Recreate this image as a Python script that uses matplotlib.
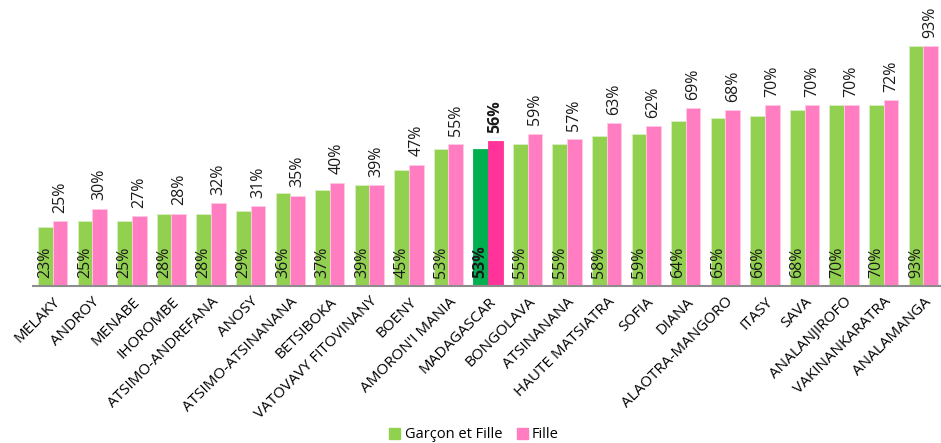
import matplotlib
matplotlib.use("Agg")
import matplotlib.pyplot as plt
from matplotlib.patches import Patch
import numpy as np

plt.rcParams['font.family'] = ['Open Sans', 'DejaVu Sans']

regions = ["MELAKY", "ANDROY", "MENABE", "IHOROMBE", "ATSIMO-ANDREFANA", "ANOSY",
           "ATSIMO-ATSINANANA", "BETSIBOKA", "VATOVAVY FITOVINANY", "BOENY",
           "AMORON'I MANIA", "MADAGASCAR", "BONGOLAVA", "ATSINANANA",
           "HAUTE MATSIATRA", "SOFIA", "DIANA", "ALAOTRA-MANGORO", "ITASY",
           "SAVA", "ANALANJIROFO", "VAKINANKARATRA", "ANALAMANGA"]
garcon_fille = [23, 25, 25, 28, 28, 29, 36, 37, 39, 45, 53, 53, 55, 55, 58, 59, 64, 65, 66, 68, 70, 70, 93]
fille = [25, 30, 27, 28, 32, 31, 35, 40, 39, 47, 55, 56, 59, 57, 63, 62, 69, 68, 70, 70, 70, 72, 93]
highlight = "MADAGASCAR"

W, H = 941, 443
fig = plt.figure(figsize=(W / 100, H / 100), dpi=100)
ax = fig.add_axes([33 / W, (H - 286) / H, (943 - 33) / W, 284 / H])

green, pink = "#92D050", "#FF7DC0"
dgreen, dpink = "#00B050", "#FF3399"

vfs = 11.5
tfs = 11
x = np.arange(len(regions))
bw = 0.37
for i, r in enumerate(regions):
    hl = (r == highlight)
    g = garcon_fille[i]
    f = fille[i]
    ax.bar(x[i] - bw / 2, g, bw, color=dgreen if hl else green,
           edgecolor="#D9EFC2" if not hl else dgreen, linewidth=0.6)
    ax.bar(x[i] + bw / 2, f, bw, color=dpink if hl else pink,
           edgecolor="#FFC9E4" if not hl else dpink, linewidth=0.6)
    fw = 'bold' if hl else 'normal'
    ax.annotate(f"{g}%", (x[i] - bw / 2, 0), xytext=(0, 6), textcoords='offset points',
                rotation=90, ha='center', va='bottom', fontsize=vfs, color='#1a1a1a',
                fontweight=fw)
    ax.annotate(f"{f}%", (x[i] + bw / 2, f), xytext=(0, 6), textcoords='offset points',
                rotation=90, ha='center', va='bottom', fontsize=vfs, color='#1a1a1a',
                fontweight=fw, annotation_clip=False)

ax.set_xlim(-0.5, len(regions) - 0.5)
ax.set_ylim(0, 110)
for s in ['top', 'right', 'left']:
    ax.spines[s].set_visible(False)
ax.spines['bottom'].set_color('#8c8c8c')
ax.spines['bottom'].set_linewidth(1.5)
ax.set_yticks([])
ax.set_xticks(x)
ax.set_xticklabels(regions, rotation=45, ha='right', va='top', rotation_mode='anchor',
                   fontsize=tfs)
ax.tick_params(axis='x', length=0, pad=6)

handles = [Patch(color=green, label="Garçon et Fille"), Patch(color=pink, label="Fille")]
fig.legend(handles=handles, loc='center', bbox_to_anchor=(474 / W, 1 - 435 / H), ncol=2,
           frameon=False, fontsize=10.5, handlelength=0.75, handleheight=0.75,
           handletextpad=0.3, columnspacing=1.0)

fig.savefig("out.png", dpi=100)
